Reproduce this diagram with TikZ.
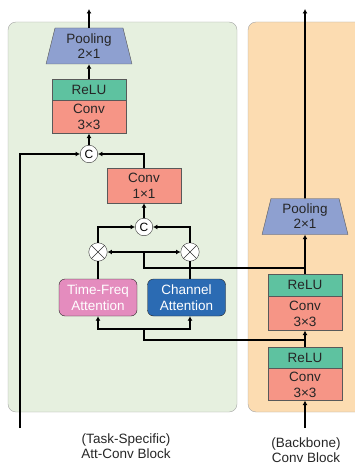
\documentclass[tikz,border=0pt]{standalone}
\usepackage{fontspec}
\setmainfont{Liberation Sans}
\usetikzlibrary{shapes.geometric,arrows.meta}
\definecolor{bggreen}{RGB}{230,240,223}
\definecolor{bgorange}{RGB}{252,220,177}
\definecolor{poolblue}{RGB}{142,160,208}
\definecolor{relugreen}{RGB}{94,194,160}
\definecolor{convred}{RGB}{246,149,134}
\definecolor{tfpink}{RGB}{228,140,190}
\definecolor{chblue}{RGB}{43,107,179}

\begin{document}
\begin{tikzpicture}[x=1pt,y=-1pt,font=\fontsize{13.5}{16}\selectfont,
    box/.style={draw=black!65,thin,minimum width=74pt,inner sep=0pt,align=center,text=black!85},
    relu/.style={box,fill=relugreen,minimum height=21pt},
    conv/.style={box,fill=convred,minimum height=33pt},
    pool/.style={trapezium,draw=black!65,thin,fill=poolblue,trapezium angle=76,
        text width=46pt,inner xsep=11pt,inner ysep=0pt,text height=15.3pt,text depth=20.7pt,
        align=center,font=\fontsize{13.5}{15}\selectfont,text=black!85},
    att/.style={draw=black!85,thin,rounded corners=6pt,minimum width=78pt,minimum height=37pt,inner sep=0pt,align=center,text=white},
    cat/.style={circle,draw=black!80,thin,fill=white,minimum size=17.5pt,inner sep=0pt,font=\fontsize{12}{12}\selectfont},
    mul/.style={circle,draw=black!80,thin,fill=white,minimum size=18.5pt,inner sep=0pt,
        path picture={\draw[thin] (path picture bounding box.north west) -- (path picture bounding box.south east)
            (path picture bounding box.north east) -- (path picture bounding box.south west);}},
    flow/.style={line width=1.6pt},
    tip/.style={-{Latex[length=4.5pt,width=5pt]}},
    label/.style={align=center,font=\fontsize{13.5}{15}\selectfont,text=black!85}]
    \useasboundingbox (0,0) rectangle (354,465);

    % block backgrounds
    \fill[bggreen,draw=black!35,rounded corners=8pt] (8,22) rectangle (237,412);
    \fill[bgorange,draw=black!35,rounded corners=8pt] (248,22) rectangle (370,412);

    % task-specific block
    \node[pool] (poolA) at (89,46) {Pooling\\2×1};
    \node[relu] (reluA) at (89,89.5) {ReLU};
    \node[conv,anchor=north] (convA) at (reluA.south) {Conv\\3×3};
    \node[cat] (catA) at (89,154) {C};
    \node[box,fill=convred,minimum height=35pt] (convB) at (144,185.5) {Conv\\1×1};
    \node[cat] (catB) at (144,227) {C};
    \node[mul] (mulL) at (98,252) {};
    \node[mul] (mulR) at (190,252) {};
    \node[att,fill=tfpink] (tfAtt) at (98,297.5) {Time-Freq\\Attention};
    \node[att,fill=chblue] (chAtt) at (186.5,297.5) {Channel\\Attention};

    % backbone block
    \node[pool] (poolB) at (305,216.5) {Pooling\\2×1};
    \node[relu,minimum height=22pt] (reluC) at (305,285) {ReLU};
    \node[conv,anchor=north,minimum height=34pt] (convC) at (reluC.south) {Conv\\3×3};
    \node[relu] (reluD) at (305,357.5) {ReLU};
    \node[conv,anchor=north,minimum height=32pt] (convD) at (reluD.south) {Conv\\3×3};

    % free ends and junctions
    \coordinate (outA) at (89,9);
    \coordinate (outB) at (305,9);
    \coordinate (inA) at (20,428);
    \coordinate (inB) at (305,428);
    \coordinate (midM) at (144,252);
    \coordinate (splitA) at (144,329);
    \coordinate (tapA) at (305,268);
    \coordinate (tapB) at (305,340);

    \node[label] (labA) at (126,446) {(Task-Specific)\\Att-Conv Block};
    \node[label] (labB) at (306,450.5) {(Backbone)\\Conv Block};

    \path[flow,tip] (poolA.north) edge (outA);
    \path[flow,tip] (reluA.north) edge (poolA.south);
    \path[flow,tip] (catA) edge (convA.south);
    \draw[flow,tip] (inA) |- (catA);
    \draw[flow,tip] (convB.north) |- (catA);
    \path[flow,tip] (catB) edge (convB.south);
    \draw[flow,tip] (mulL) |- (catB);
    \draw[flow,tip] (mulR) |- (catB);
    \draw[flow] (midM) |- (tapA);
    \draw[flow,{Latex[length=4.5pt,width=5pt]}-{Latex[length=4.5pt,width=5pt]}] (mulL) -- (mulR);
    \draw[flow] (tfAtt.north) -- (mulL);
    \draw[flow] (mulR |- chAtt.north) -- (mulR);
    \draw[flow,tip] (splitA) -| (tfAtt.south);
    \draw[flow,tip] (splitA) -| (mulR |- chAtt.south);
    \draw[flow] (splitA) |- (tapB);

    \path[flow,tip] (inB) edge (convD.south);
    \path[flow,tip] (reluD.north) edge (convC.south);
    \path[flow,tip] (reluC.north) edge (poolB.south);
    \path[flow,tip] (poolB.north) edge (outB);
\end{tikzpicture}
\end{document}
